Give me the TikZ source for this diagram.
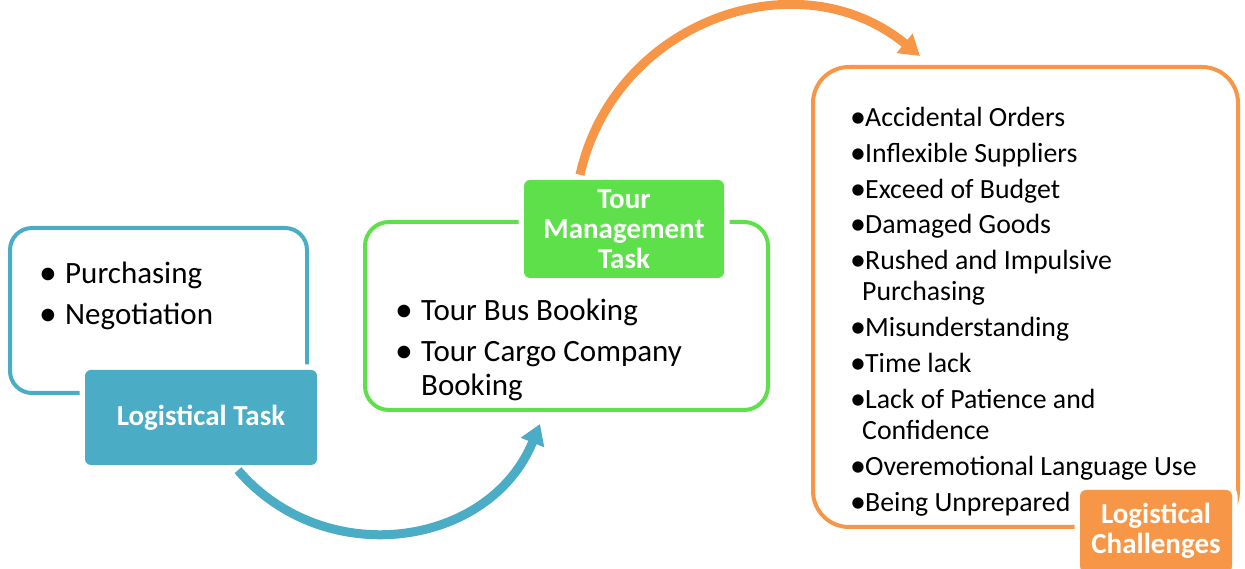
\documentclass[tikz,border=0pt]{standalone}
\usepackage{fontspec}
\setmainfont{Carlito}
\usetikzlibrary{positioning,arrows.meta}

\definecolor{taskblue}{HTML}{4BACC6}
\definecolor{tourgreen}{HTML}{5EE04A}
\definecolor{challorange}{HTML}{F79646}

\newcommand{\blt}{\makebox[26pt][l]{\raisebox{-0.03em}{\scalebox{1.15}{\textbullet}}}}
\newcommand{\sblt}{\makebox[15pt][l]{\raisebox{-0.03em}{\scalebox{1.15}{\textbullet}}}}

\tikzset{
  outline/.style={draw=#1, line width=4pt, inner sep=0pt},
  tag/.style={fill=#1, preaction={draw=white, line width=11pt}, rounded corners=6pt,
    text=white, font=\bfseries\fontsize{29}{30}\selectfont, align=center, inner sep=0pt},
  item/.style={anchor=base west, inner sep=0pt, font=\fontsize{31}{37}\selectfont},
  sitem/.style={anchor=base west, inner sep=0pt, font=\fontsize{27.8}{33}\selectfont},
  flow/.style={draw=#1, line width=9pt, -{Triangle[width=24pt,length=20pt]}, looseness=1.12}
}

\begin{document}
\begin{tikzpicture}[x=1pt, y=1pt]
	\useasboundingbox (0,0) rectangle (1245,569);

	% outlined boxes
	\node[outline=taskblue, rounded corners=22pt, minimum width=297pt, minimum height=165pt] (taskbox) at (158.5,258.5) {};
	\node[outline=tourgreen, rounded corners=24pt, minimum width=403pt, minimum height=188pt] (tourbox) at (566.5,253) {};
	\node[outline=challorange, rounded corners=36pt, minimum width=425pt, minimum height=460pt] (chbox) at (1025.5,272) {};

	% labels
	\node[tag=taskblue, minimum width=232pt, minimum height=95pt] (tasklabel) at (201,151.5) {Logistical Task};
	\node[tag=tourgreen, minimum width=200pt, minimum height=98pt] (tourlabel) at (624,340) {Tour\\Management\\Task};
	\node[tag=challorange, minimum width=152pt, minimum height=82pt] (chlabel) at (1156,38) {Logistical\\Challenges};

	% items
	\node[item] (purch) at (39,285) {\blt Purchasing};
	\node[item] (nego) at (39,244) {\blt Negotiation};

	\node[item] (bus) at (395,248) {\blt Tour Bus Booking};
	\node[item] (cargo) at (395,207) {\blt Tour Cargo Company};
	\node[item] (cargob) at (421,173) {Booking};

	\foreach \yy/\txt [count=\i] in {127/\sblt Accidental Orders, 163/\sblt Inflexible Suppliers,
		199/\sblt Exceed of Budget, 234/\sblt Damaged Goods, 270/\sblt Rushed and Impulsive,
		301/\hspace*{12pt}Purchasing, 337/\sblt Misunderstanding, 373/\sblt Time lack,
		409/\sblt Lack of Patience and, 440/\hspace*{12pt}Confidence,
		476/\sblt Overemotional Language Use, 512/\sblt Being Unprepared}
		\node[sitem] (ch\i) at (850,569-\yy) {\txt};

	% flows
	\draw[flow=taskblue] ([xshift=37pt, yshift=-5pt]tasklabel.south) to[out=310.7, in=247.8] ([xshift=-26.5pt, yshift=-12pt]tourbox.south);
	\draw[flow=challorange] ([xshift=-44pt, yshift=5pt]tourlabel.north) to[out=77.4, in=140.6] ([xshift=-105.5pt, yshift=9pt]chbox.north);
\end{tikzpicture}
\end{document}
